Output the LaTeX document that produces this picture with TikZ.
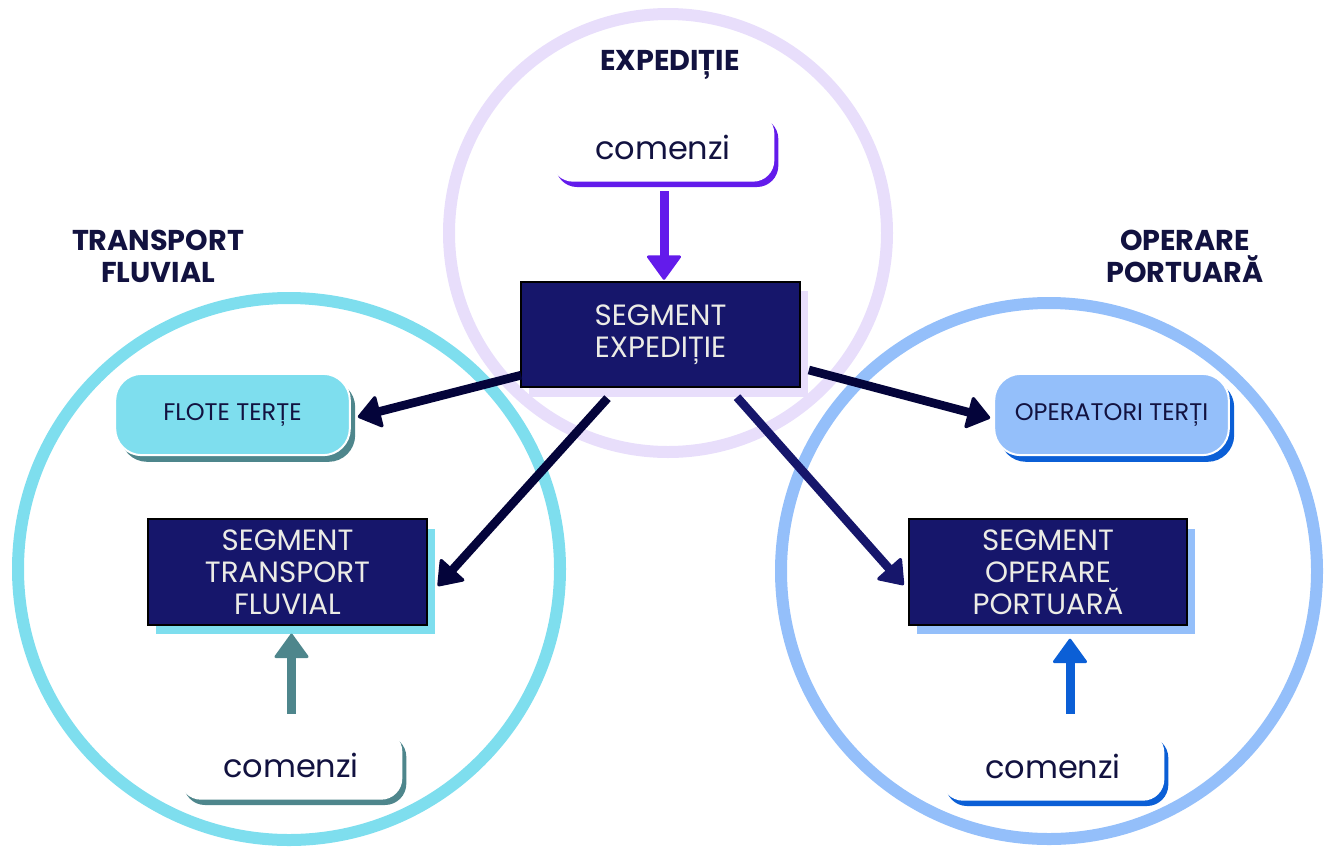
\documentclass[tikz,border=0pt]{standalone}
\usepackage{fontspec}
\setmainfont{Poppins}
\usetikzlibrary{arrows.meta,calc,shadows}

\definecolor{lavring}{RGB}{232,222,251}
\definecolor{cyanring}{RGB}{126,222,238}
\definecolor{bluering}{RGB}{148,191,250}
\definecolor{segnavy}{RGB}{22,22,107}
\definecolor{arrownavy}{RGB}{4,4,58}
\definecolor{purplearr}{RGB}{99,27,235}
\definecolor{tealarr}{RGB}{78,134,140}
\definecolor{bluearr}{RGB}{11,95,214}
\definecolor{inkdark}{RGB}{18,18,64}
\definecolor{offwhite}{RGB}{236,236,230}

\tikzset{every picture/.style={line width=0.75pt}}
\tikzset{
  ring/.style={line width=9pt},
  segbox/.style={draw=black, line width=1.5pt, fill=segnavy, text=offwhite, inner sep=0pt,
    minimum width=209pt, minimum height=79pt, align=center, font=\fontsize{22}{24}\selectfont,
    drop shadow={shadow xshift=6pt, shadow yshift=-7pt, fill=#1, opacity=1}},
  pillbox/.style 2 args={draw=white, line width=1.5pt, fill=#1, rounded corners=20pt, inner sep=0pt,
    minimum width=176pt, minimum height=61pt, text=inkdark, font=\fontsize{18}{20}\selectfont,
    drop shadow={shadow xshift=4pt, shadow yshift=-5pt, fill=#2, opacity=1}},
  cmdbox/.style={fill=white, rounded corners=16pt, inner sep=0pt, minimum width=167pt,
    minimum height=52pt, text=inkdark, font=\fontsize{24}{26}\selectfont,
    drop shadow={shadow xshift=3pt, shadow yshift=-4pt, fill=#1, opacity=1}},
  heading/.style={text=inkdark, align=center, font=\bfseries\fontsize{21.5}{24}\selectfont},
  feedarrow/.style={draw=#1, line width=6.75pt, -{Triangle[length=19pt,width=27pt,line width=2pt,round]}},
  navyarrow/.style={draw=arrownavy, line width=6.5pt, -{Triangle[length=18pt,width=26pt,line width=2.5pt,round]}}
}

\begin{document}
\begin{tikzpicture}[x=0.75pt,y=0.75pt,yscale=-1,xscale=1]
\useasboundingbox (0,0) rectangle (1331,850);

%Rings
\draw [ring, draw=lavring] (668,233) circle (219);
\draw [ring, draw=cyanring] (289,569) circle (271);
\draw [ring, draw=bluering] (1049,571) circle (268);

% Segment boxes
\node [segbox=lavring] (segexp) at (660.5,334.5) {SEGMENT\\EXPEDIȚIE};
\node [segbox=cyanring] (segtr) at (287.5,572) {SEGMENT\\TRANSPORT\\FLUVIAL};
\node [segbox=bluering] (segop) at (1048,572) {SEGMENT\\OPERARE\\PORTUARĂ};

% Third parties
\node [pillbox={cyanring}{tealarr}] (flote) at (232.5,414.5) {FLOTE TERȚE};
\node [pillbox={bluering}{bluearr}] (opr) at (1111.5,414.5) {OPERATORI TERȚI};

% Orders
\node [cmdbox=purplearr] (comtop) at (663,147) {comenzi};
\node [cmdbox=tealarr] (comleft) at (291,765) {comenzi};
\node [cmdbox=bluearr] (comright) at (1053,766) {comenzi};

% Headings
\node [heading] (hexp) at (670,65) {EXPEDIȚIE};
\node [heading] (htr) at (158,256) {TRANSPORT\\FLUVIAL};
\node [heading] (hop) at (1185,256) {OPERARE\\PORTUARĂ};

%Arrows
\draw [feedarrow=purplearr] ($(comtop.south)+(1,9)$) -- ($(segexp.north)+(3.5,-1)$);
\draw [feedarrow=tealarr] ($(comleft.north)+(0.5,-16)$) -- ($(segtr.south)+(4,8)$);
\draw [feedarrow=bluearr] ($(comright.north)+(17,-17)$) -- ($(segop.south)+(22,13)$);
\draw [navyarrow] ($(segexp.south west)+(1,-13)$) -- ($(flote.east)+(7,2.5)$);
\draw [navyarrow] ($(segexp.south)+(-53,10)$) -- ($(segtr.east)+(10,14)$);
\draw [navyarrow] ($(segexp.east)+(8,35.5)$) -- ($(opr.west)+(-3,3.5)$);
\draw [navyarrow, draw=segnavy] ($(segexp.south)+(76.5,9)$) -- ($(segop.west)+(-4,13)$);

\end{tikzpicture}
\end{document}
